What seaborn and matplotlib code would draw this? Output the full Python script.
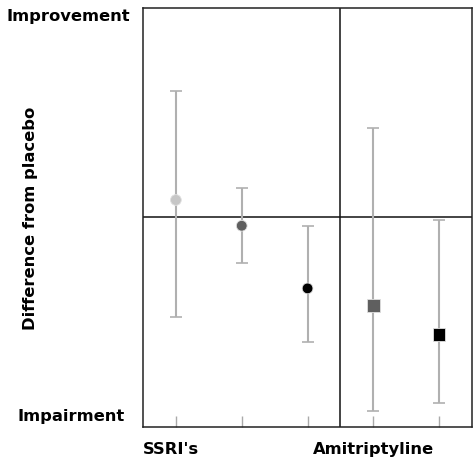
import numpy as np
import pandas as pd
import seaborn as sns
import matplotlib.pyplot as plt

# values (difference from placebo, arbitrary units)
groups = ["SSRI 1", "SSRI 2", "SSRI 3", "Amitriptyline 1", "Amitriptyline 2"]
estimate = [0.083, -0.040, -0.339, -0.420, -0.560]
upper = [0.605, 0.138, -0.040, 0.428, -0.014]
lower = [-0.474, -0.216, -0.597, -0.923, -0.888]
marker_shape = ["o", "o", "o", "s", "s"]
marker_size = [60, 60, 60, 80, 80]
point_colors = ["#c6c6c6", "#5f5f5f", "#000000", "#5f5f5f", "#000000"]
class_labels = ["SSRI's", "Amitriptyline"]

sns.set_style("white")
plt.rcParams["font.family"] = ["DejaVu Sans"]

df = pd.DataFrame({"group": groups, "x": np.arange(len(groups)),
                   "est": estimate, "lo": lower, "hi": upper})

fig = plt.figure(figsize=(4.75, 4.63), dpi=100)
ax = fig.add_axes([0.301, 0.078, 0.693, 0.905])

# confidence intervals
ax.errorbar(df["x"], df["est"],
            yerr=[df["est"] - df["lo"], df["hi"] - df["est"]],
            fmt="none", ecolor="#b0b0b0", elinewidth=1.5, capsize=4,
            capthick=1.2, zorder=2)

sns.scatterplot(data=df, x="x", y="est", hue="group", style="group",
                size="group",
                palette=dict(zip(groups, point_colors)),
                markers=dict(zip(groups, marker_shape)),
                sizes=dict(zip(groups, marker_size)),
                edgecolor="#e0e0e0", linewidth=0.6,
                legend=False, ax=ax, zorder=3)

ax.axhline(0, color="#111111", lw=1.1, zorder=1)
ax.axvline(2.5, color="#111111", lw=1.1, zorder=1)

ax.set_xlim(-0.5, 4.5)
ax.set_ylim(-1, 1)
ax.set_xticks(df["x"])
ax.set_xticklabels([])
ax.set_yticks([])
ax.tick_params(axis="x", direction="in", length=8, width=1, color="#aaaaaa",
               bottom=True)
ax.set_xlabel("")
ax.set_ylabel("")
for sp in ax.spines.values():
    sp.set_color("#222222")
    sp.set_linewidth(1.1)

fs = 11.8
txt = dict(fontsize=fs, fontweight="bold", color="black")
# group labels under the axis
ax.text(-0.5, -1.11, class_labels[0], ha="left", va="center",
        clip_on=False, **txt)
ax.text(3.0, -1.11, class_labels[1], ha="center", va="center",
        clip_on=False, **txt)

fig.text(130 / 475, 1 - 16 / 463, "Improvement", ha="right", va="center",
         **txt)
fig.text(125 / 475, 1 - 417 / 463, "Impairment", ha="right", va="center",
         **txt)
fig.text(31 / 475, 1 - 218 / 463, "Difference from placebo", rotation=90,
         ha="center", va="center", **txt)

fig.savefig("out.png", dpi=100)
